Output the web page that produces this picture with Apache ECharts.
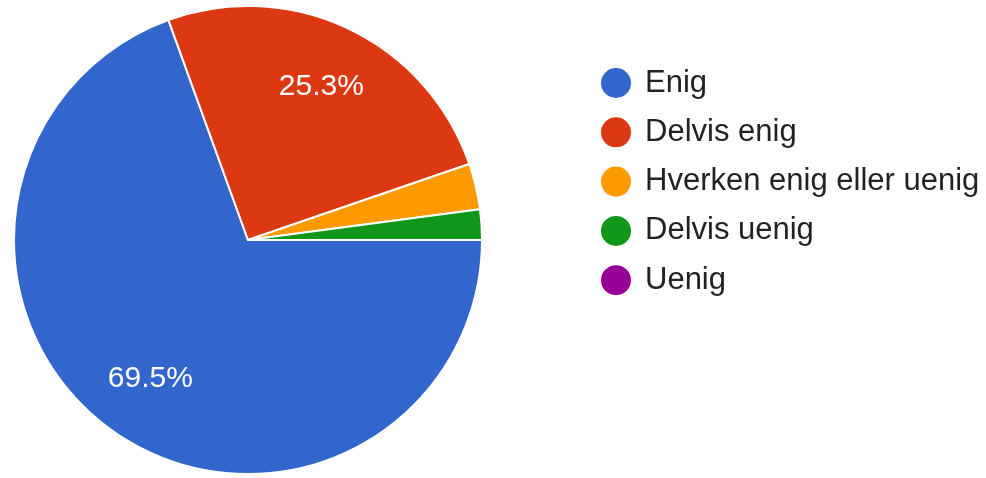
<!DOCTYPE html>
<html>
<head>
<meta charset="utf-8">
<script src="https://cdn.jsdelivr.net/npm/echarts@6/dist/echarts.min.js"></script>
<style>
html,body{margin:0;padding:0;background:#fff;}
#chart{width:986px;height:478px;}
</style>
</head>
<body>
<div id="chart"></div>
<script>
var categories = ['Enig', 'Delvis enig', 'Hverken enig eller uenig', 'Delvis uenig', 'Uenig'];
var counts = [66, 24, 3, 2, 0];
var colors = ['#3366cc', '#dc3912', '#ff9900', '#109618', '#990099'];
var minLabelPercent = 5;

var total = counts.reduce(function (a, b) { return a + b; }, 0);
var pieData = categories.map(function (name, i) {
  return { name: name, value: counts[i], itemStyle: { color: colors[i] } };
});
var labelData = categories.map(function (name, i) {
  var pct = counts[i] / total * 100;
  return {
    name: name, value: counts[i],
    label: { show: pct >= minLabelPercent }
  };
});

var chart = echarts.init(document.getElementById('chart'), null, { renderer: 'canvas' });
chart.setOption({
  animation: false,
  backgroundColor: '#ffffff',
  legend: {
    orient: 'vertical',
    left: 599,
    top: 66,
    padding: 0,
    icon: 'circle',
    itemWidth: 32,
    itemHeight: 32,
    itemGap: 15.3,
    data: categories,
    textStyle: {
      fontFamily: 'Liberation Sans, Arial, sans-serif',
      fontSize: 31,
      lineHeight: 31,
      color: '#222222',
      padding: [0, 0, 0, 8]
    }
  },
  series: [
    {
      type: 'pie',
      center: [248, 240],
      radius: [0, 234],
      startAngle: 0,
      clockwise: true,
      avoidLabelOverlap: false,
      stillShowZeroSum: true,
      label: { show: false },
      labelLine: { show: false },
      emphasis: { disabled: true },
      itemStyle: { borderColor: '#ffffff', borderWidth: 2 },
      data: pieData
    },
    {
      type: 'pie',
      center: [248, 240],
      radius: [100, 234],
      startAngle: 0,
      clockwise: true,
      silent: true,
      legendHoverLink: false,
      avoidLabelOverlap: false,
      itemStyle: { color: 'rgba(0,0,0,0)', borderWidth: 0 },
      emphasis: { disabled: true },
      labelLine: { show: false },
      label: {
        position: 'inside',
        color: '#ffffff',
        fontFamily: 'Liberation Sans, Arial, sans-serif',
        fontSize: 30,
        formatter: function (p) { return (p.value / total * 100).toFixed(1) + '%'; }
      },
      data: labelData
    }
  ]
});
</script>
</body>
</html>
